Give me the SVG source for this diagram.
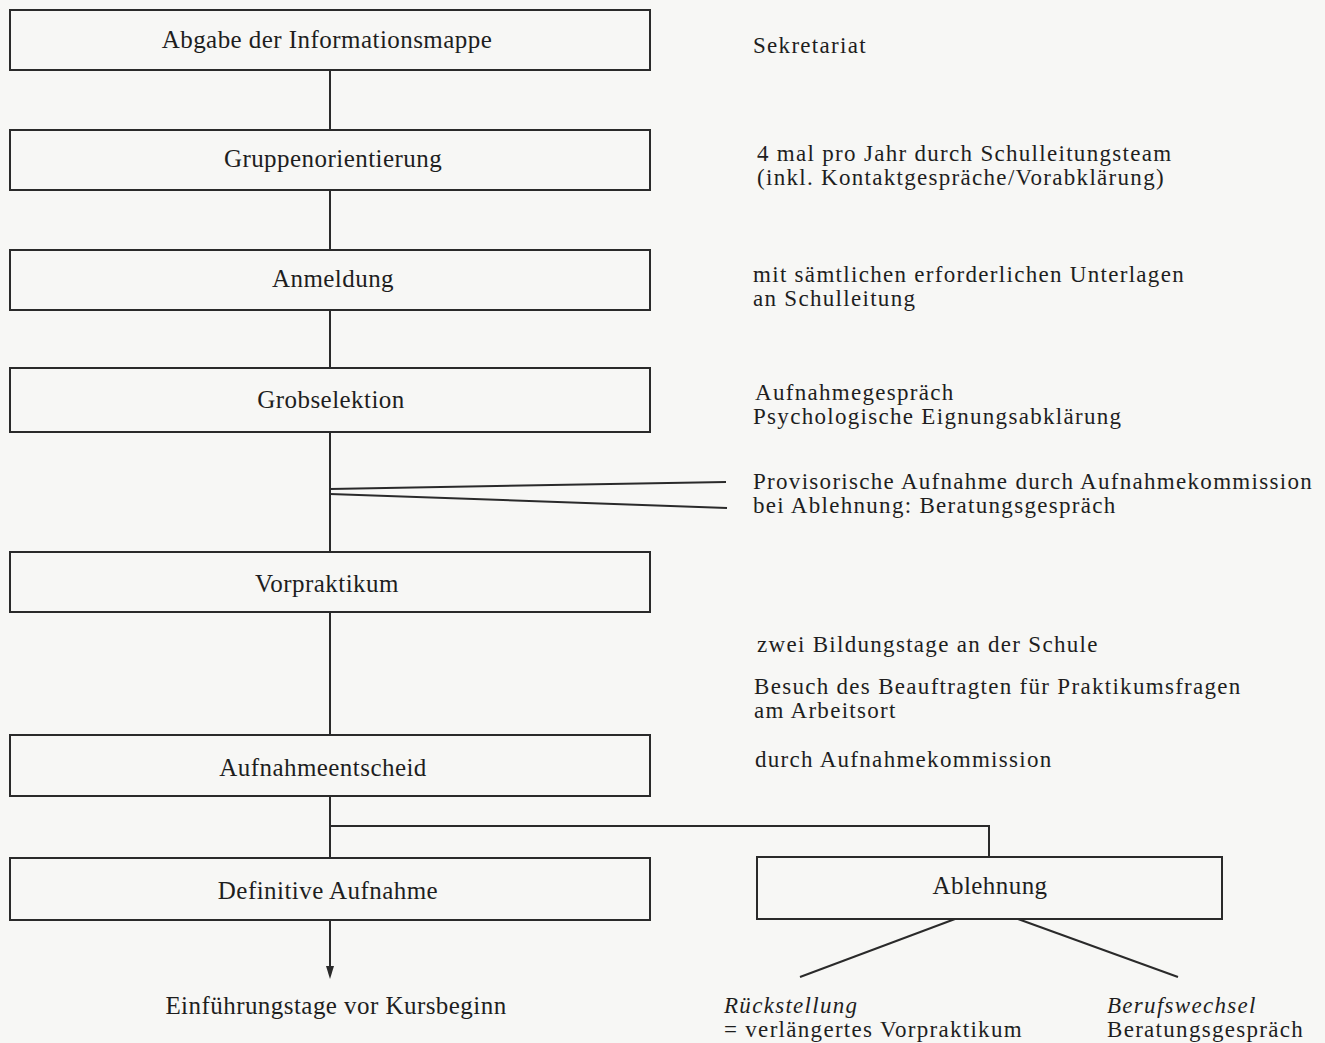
<svg xmlns="http://www.w3.org/2000/svg" width="1325" height="1043" viewBox="0 0 1325 1043">
<defs>
<style>
.bg{fill:#f7f7f5}
.box{fill:none;stroke:#2a2a2a;stroke-width:2}
.ln{fill:none;stroke:#2a2a2a;stroke-width:2}
.ah{fill:#2a2a2a}
.bt{font-family:"Liberation Serif","Times New Roman",serif;font-size:25px;letter-spacing:0.45px;fill:#1e1e1e;text-anchor:middle}
.nt{font-family:"Liberation Serif","Times New Roman",serif;font-size:23px;letter-spacing:1.3px;fill:#1e1e1e}
.it{font-style:italic}
</style>
</defs>
<rect class="bg" x="0" y="0" width="1325" height="1043"/>

<g id="connectors">
<line class="ln" x1="330" y1="70" x2="330" y2="130"/>
<line class="ln" x1="330" y1="190" x2="330" y2="250"/>
<line class="ln" x1="330" y1="310" x2="330" y2="368"/>
<line class="ln" x1="330" y1="432" x2="330" y2="552"/>
<line class="ln" x1="330" y1="489" x2="726" y2="482"/>
<line class="ln" x1="330" y1="494" x2="727" y2="508"/>
<line class="ln" x1="330" y1="612" x2="330" y2="735"/>
<line class="ln" x1="330" y1="796" x2="330" y2="858"/>
<polyline class="ln" points="330,826 989,826 989,857"/>
<line class="ln" x1="330" y1="920" x2="330" y2="968"/>
<polygon class="ah" points="326,966 334,966 330,979"/>
<line class="ln" x1="955" y1="919" x2="800" y2="977"/>
<line class="ln" x1="1018" y1="919" x2="1178" y2="977"/>
</g>

<g id="n1"><rect class="box" x="10" y="10" width="640" height="60"/><text class="bt" x="327" y="48">Abgabe der Informationsmappe</text></g>
<g id="n2"><rect class="box" x="10" y="130" width="640" height="60"/><text class="bt" x="333" y="167">Gruppenorientierung</text></g>
<g id="n3"><rect class="box" x="10" y="250" width="640" height="60"/><text class="bt" x="333" y="287">Anmeldung</text></g>
<g id="n4"><rect class="box" x="10" y="368" width="640" height="64"/><text class="bt" x="331" y="408">Grobselektion</text></g>
<g id="n5"><rect class="box" x="10" y="552" width="640" height="60"/><text class="bt" x="327" y="592">Vorpraktikum</text></g>
<g id="n6"><rect class="box" x="10" y="735" width="640" height="61"/><text class="bt" x="323" y="776">Aufnahmeentscheid</text></g>
<g id="n7"><rect class="box" x="10" y="858" width="640" height="62"/><text class="bt" x="328" y="899">Definitive Aufnahme</text></g>
<g id="n8"><rect class="box" x="757" y="857" width="465" height="62"/><text class="bt" x="990" y="894">Ablehnung</text></g>
<g id="n9"><text class="bt" x="336" y="1014">Einführungstage vor Kursbeginn</text></g>
<g id="n10"><text class="nt it" x="724" y="1013">Rückstellung</text><text class="nt" x="724" y="1037">= verlängertes Vorpraktikum</text></g>
<g id="n11"><text class="nt it" x="1107" y="1013">Berufswechsel</text><text class="nt" x="1107" y="1037">Beratungsgespräch</text></g>

<g id="notes">
<text class="nt" x="753" y="53">Sekretariat</text>
<text class="nt" x="757" y="161">4 mal pro Jahr durch Schulleitungsteam</text>
<text class="nt" x="757" y="185">(inkl. Kontaktgespräche/Vorabklärung)</text>
<text class="nt" x="753" y="282">mit sämtlichen erforderlichen Unterlagen</text>
<text class="nt" x="753" y="306">an Schulleitung</text>
<text class="nt" x="755" y="400">Aufnahmegespräch</text>
<text class="nt" x="753" y="424">Psychologische Eignungsabklärung</text>
<text class="nt" x="753" y="489">Provisorische Aufnahme durch Aufnahmekommission</text>
<text class="nt" x="753" y="513">bei Ablehnung: Beratungsgespräch</text>
<text class="nt" x="757" y="652">zwei Bildungstage an der Schule</text>
<text class="nt" x="754" y="694">Besuch des Beauftragten für Praktikumsfragen</text>
<text class="nt" x="754" y="718">am Arbeitsort</text>
<text class="nt" x="755" y="767">durch Aufnahmekommission</text>
</g>
</svg>
